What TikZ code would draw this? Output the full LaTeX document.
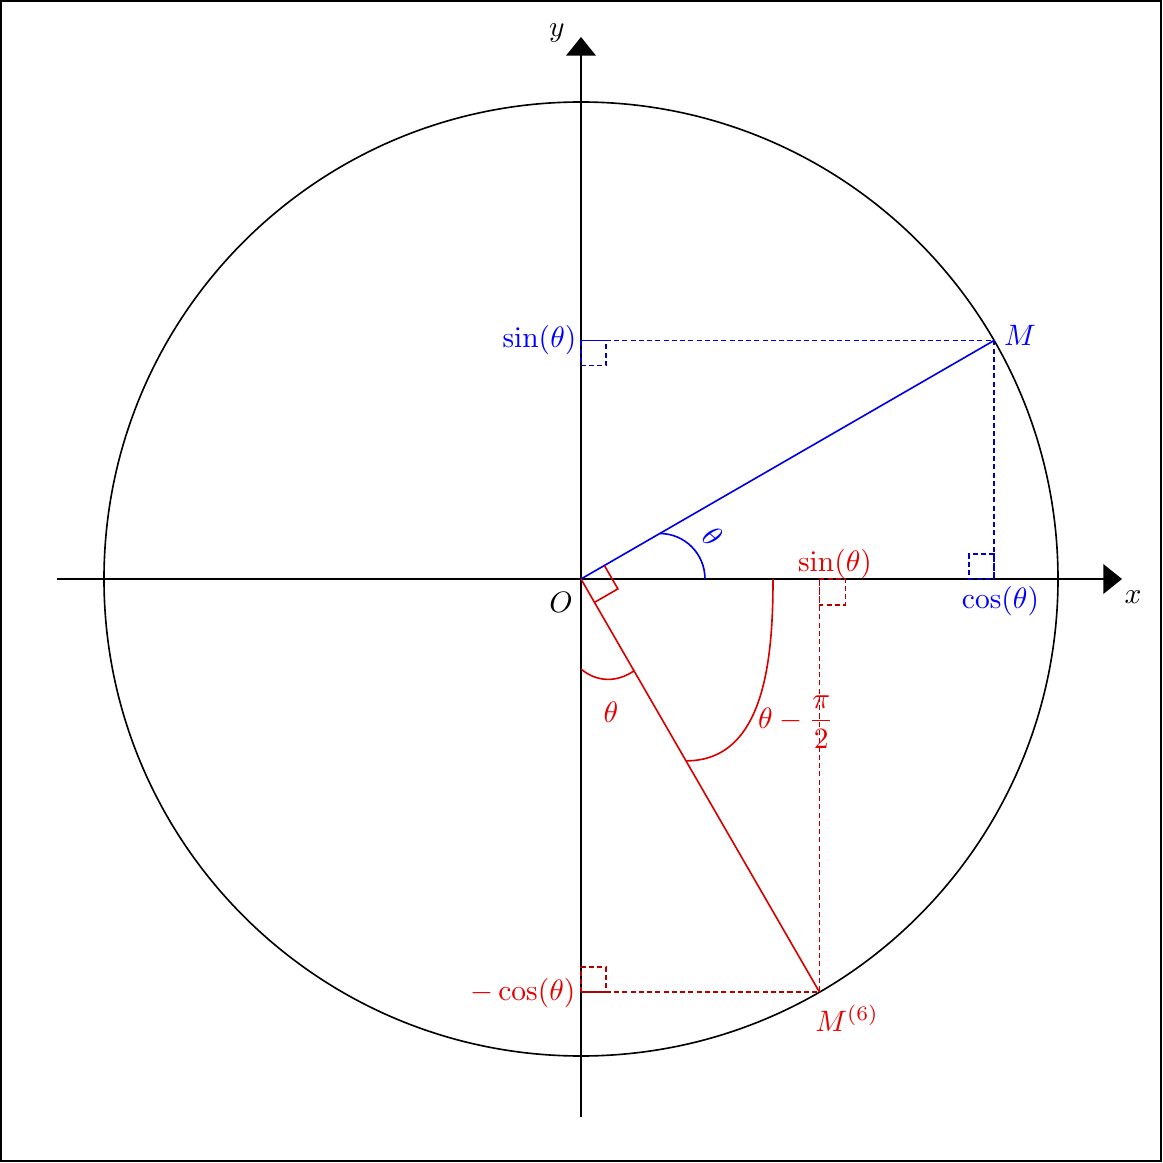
\documentclass[tikz,border=0pt]{standalone}
\usepackage{amsmath}
\usetikzlibrary{arrows.meta}
\begin{document}
\begin{tikzpicture}[x=0.339pt,y=0.339pt,
  axis/.style={line width=0.55pt,-{Triangle[length=6.3pt,width=10pt]}},
  blackline/.style={line width=0.55pt},
  blueline/.style={blue!90!black,line width=0.55pt},
  redline/.style={red!85!black,line width=0.55pt},
  bluedash/.style={blue!75!black,line width=0.6pt,dash pattern=on 1.7pt off 1.1pt},
  reddash/.style={red!70!black,line width=0.6pt,dash pattern=on 1.7pt off 1.1pt},
  bluetext/.style={text=blue},
  redtext/.style={text=red!90!black}]
\useasboundingbox (-581,-584) rectangle (582,579);
\draw[line width=0.6pt] (-580,-582) rectangle (580,578);
% points
\coordinate (O) at (0,0);
\coordinate (M) at (30:477);
\coordinate (N) at (-60:477);
\coordinate (Mx) at (M |- O);
\coordinate (My) at (O |- M);
\coordinate (Nx) at (N |- O);
\coordinate (Ny) at (O |- N);
\coordinate (xs) at (-524,0);
\coordinate (xe) at (541,0);
\coordinate (ys) at (0,-538);
\coordinate (ye) at (0,542);
% axes and circle
\draw[axis] (xs) -- (xe);
\draw[axis] (ys) -- (ye);
\draw[blackline] (O) circle[radius=477];
% blue part
\draw[bluedash] (My) -- (M) -- (Mx);
\draw[bluedash] (Mx) rectangle ++(-25,25);
\draw[bluedash] (My) rectangle ++(25,-25);
\draw[blueline] (O) -- (M);
\coordinate (ba1) at (124,0);
\coordinate (ba2) at (30:91);
\draw[blueline] (ba1) to[out=90,in=0] (ba2);
% red part
\draw[reddash] (Ny) -- (N) -- (Nx);
\draw[reddash] (Nx) rectangle ++(26,-26);
\draw[reddash] (Ny) rectangle ++(25,25);
\draw[redline] (O) -- (N);
\coordinate (ra1) at (0,-90);
\coordinate (ra2) at (-60:106);
\draw[redline] (ra1) to[out=-40,in=-145] (ra2);
\coordinate (rb1) at (192,0);
\coordinate (rb2) at (-60:210);
\coordinate (rbc1) at (192,-79);
\coordinate (rbc2) at (184,-181.9);
\draw[redline] (rb1) .. controls (rbc1) and (rbc2) .. (rb2);
\coordinate (rr1) at (30:27);
\coordinate (rr3) at (-60:27);
\draw[redline] (rr1) -- ++(-60:27) -- (rr3);
% labels
\node (lx) at (552,-18) {$x$};
\node (ly) at (-24,546) {$y$};
\node (lO) at (-20,-23) {$O$};
\node[bluetext] (lM) at (439,244) {$M$};
\node[redtext] (lN) at (266,-439) {$M^{(6)}$};
\node[bluetext,anchor=east,inner sep=0pt] (lsb) at (-4,238.5) {$\sin(\theta)$};
\node[redtext,anchor=east,inner sep=0pt] (lcr) at (-5,-414) {$-\cos(\theta)$};
\node[bluetext] (lcb) at (419.5,-22) {$\cos(\theta)$};
\node[redtext] (lsr) at (254,14.5) {$\sin(\theta)$};
\node[redtext] (lt1) at (30,-133) {$\theta$};
\node[redtext] (lt2) at (215,-143) {$\theta-\dfrac{\pi}{2}$};
\node[bluetext,rotate=-40] (lt0) at (131.7,42.3) {$\theta$};
\end{tikzpicture}
\end{document}
